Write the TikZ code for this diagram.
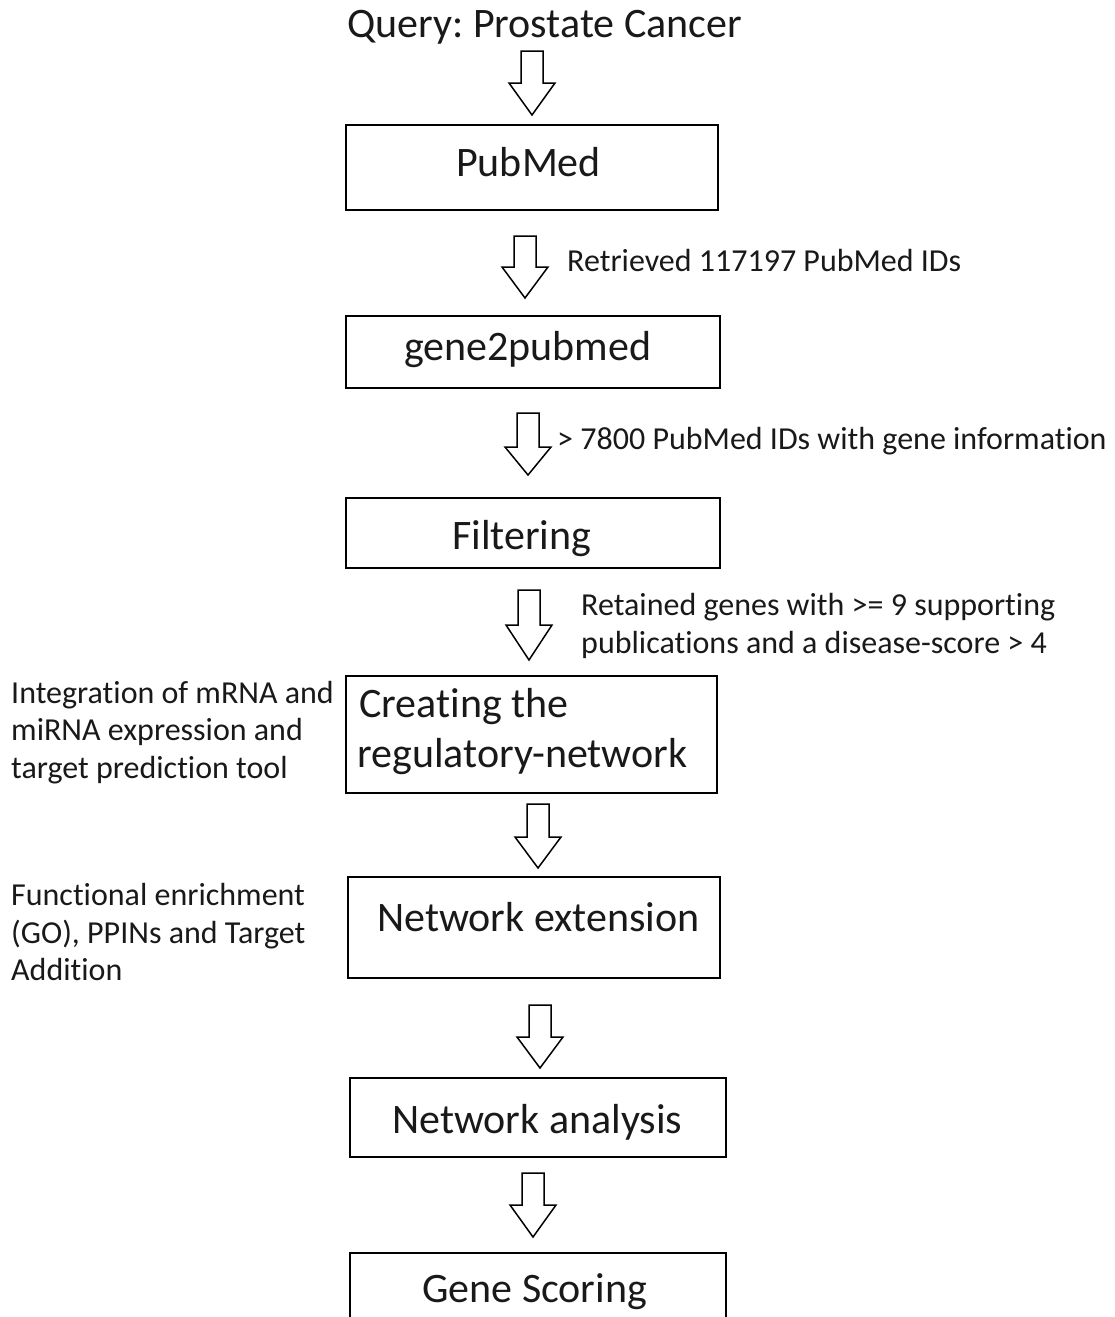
\documentclass[tikz,border=0pt]{standalone}
\usepackage{fontspec}
\setmainfont{Carlito}[Ligatures={NoCommon,NoContextual}]
\frenchspacing
\tikzset{
  x=1pt,y=-1pt,
  boxst/.style={draw=black,line width=2pt},
  arrst/.style={draw=black,line width=1.5pt,line join=miter},
  ttl/.style={anchor=base west,inner sep=0pt,text=black!90,font=\fontsize{42}{50}\selectfont},
  lbl/.style={anchor=base west,inner sep=0pt,text=black!90,font=\fontsize{32}{38}\selectfont}
}
\newcommand{\blockarr}[5]{%
  \coordinate (#1) at (#2,#5);
  \draw[arrst] ({#2-11},#3) -- ({#2+11},#3) -- ({#2+11},#4) -- ({#2+23},#4) -- (#1)
     -- ({#2-23},#4) -- ({#2-11},#4) -- cycle;}
\begin{document}
\begin{tikzpicture}
\useasboundingbox (0,0) rectangle (1115,1317);
\clip (0,0) rectangle (1115,1317);
% boxes
\draw[boxst] (346,125) rectangle (718,210);
\draw[boxst] (346,316) rectangle (720,388);
\draw[boxst] (346,498) rectangle (720,568);
\draw[boxst] (346,676) rectangle (717,793);
\draw[boxst] (348,877) rectangle (720,978);
\draw[boxst] (350,1078) rectangle (726,1157);
\draw[boxst] (350,1253) rectangle (726,1345);
% titles
\node[ttl] (q) at (347,37) {Query: Prostate Cancer};
\node[ttl] (pm) at (456,176) {PubMed};
\node[ttl] (g2p) at (404,360) {gene2pubmed};
\node[ttl] (filt) at (452,549) {Filtering};
\node[ttl] (cr1) at (359,717) {Creating the};
\node[ttl] (cr2) at (357,767) {regulatory-network};
\node[ttl] (ne) at (377,931) {Network extension};
\node[ttl] (na) at (392,1133) {Network analysis};
\node[ttl] (gs) at (422,1302) {Gene Scoring};
% labels
\node[lbl] (l1) at (567,271) {Retrieved 117197 PubMed IDs};
\node[lbl] (l2) at (557,449) {> 7800 PubMed IDs with gene information};
\node[lbl] (l3a) at (581,615) {Retained genes with >= 9 supporting};
\node[lbl] (l3b) at (581,653) {publications and a disease-score > 4};
\node[lbl] (l4a) at (11,703) {Integration of mRNA and};
\node[lbl] (l4b) at (11,740) {miRNA expression and};
\node[lbl] (l4c) at (11,778) {target prediction tool};
\node[lbl] (l5a) at (11,905) {Functional enrichment};
\node[lbl] (l5b) at (11,943) {(GO), PPINs and Target};
\node[lbl] (l5c) at (11,980) {Addition};
% block arrows
\blockarr{a1}{532}{51}{83}{115}
\blockarr{a2}{525}{236}{267}{298}
\blockarr{a3}{528}{413}{447}{475}
\blockarr{a4}{529}{590}{625}{660}
\blockarr{a5}{538}{804}{837}{868}
\blockarr{a6}{540}{1005}{1037}{1068}
\blockarr{a7}{533}{1173}{1205}{1237}
\end{tikzpicture}
\end{document}
